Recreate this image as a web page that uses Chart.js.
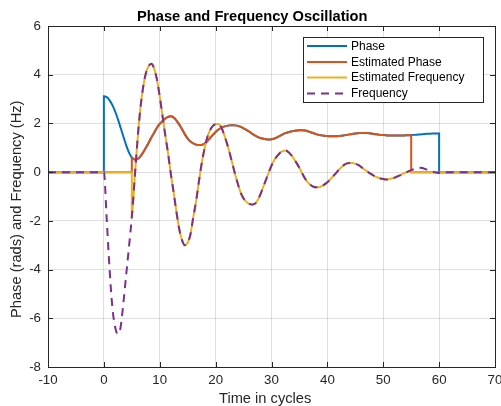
<!DOCTYPE html>
<html>
<head>
<meta charset="utf-8">
<script src="https://cdn.jsdelivr.net/npm/chart.js@4.4.1/dist/chart.umd.min.js"></script>
<style>
  body { margin: 0; background: #fff; }
  canvas { display: block; }
</style>
</head>
<body>
<canvas id="osc" width="501" height="406"></canvas>
<script>
// sample times (cycles), 0..60 every half cycle
var cycles = [0, 0.5, 1, 1.5, 2, 2.5, 3, 3.5, 4, 4.5, 5, 5.5, 6, 6.5, 7, 7.5, 8, 8.5, 9, 9.5,
  10, 10.5, 11, 11.5, 12, 12.5, 13, 13.5, 14, 14.5, 15, 15.5, 16, 16.5, 17, 17.5, 18, 18.5, 19, 19.5,
  20, 20.5, 21, 21.5, 22, 22.5, 23, 23.5, 24, 24.5, 25, 25.5, 26, 26.5, 27, 27.5, 28, 28.5, 29, 29.5,
  30, 30.5, 31, 31.5, 32, 32.5, 33, 33.5, 34, 34.5, 35, 35.5, 36, 36.5, 37, 37.5, 38, 38.5, 39, 39.5,
  40, 40.5, 41, 41.5, 42, 42.5, 43, 43.5, 44, 44.5, 45, 45.5, 46, 46.5, 47, 47.5, 48, 48.5, 49, 49.5,
  50, 50.5, 51, 51.5, 52, 52.5, 53, 53.5, 54, 54.5, 55, 55.5, 56, 56.5, 57, 57.5, 58, 58.5, 59, 59.5, 60];

var phase = [3.12, 3.08, 2.96, 2.76, 2.5, 2.18, 1.82, 1.45, 1.1, 0.8, 0.6, 0.52, 0.54, 0.64, 0.8, 1.0, 1.2, 1.42, 1.62, 1.82,
  1.98, 2.1, 2.2, 2.27, 2.29, 2.24, 2.12, 1.95, 1.76, 1.55, 1.38, 1.26, 1.18, 1.13, 1.11, 1.12, 1.17, 1.27, 1.4, 1.53,
  1.65, 1.75, 1.82, 1.87, 1.9, 1.92, 1.93, 1.92, 1.9, 1.86, 1.8, 1.74, 1.67, 1.58, 1.51, 1.45, 1.4, 1.37, 1.35, 1.34,
  1.35, 1.38, 1.43, 1.49, 1.55, 1.6, 1.64, 1.67, 1.69, 1.71, 1.72, 1.72, 1.71, 1.68, 1.64, 1.6, 1.56, 1.53, 1.51, 1.49,
  1.48, 1.47, 1.47, 1.47, 1.48, 1.49, 1.51, 1.53, 1.55, 1.57, 1.59, 1.6, 1.61, 1.61, 1.61, 1.6, 1.58, 1.56, 1.55, 1.53,
  1.52, 1.51, 1.5, 1.5, 1.5, 1.5, 1.5, 1.5, 1.51, 1.51, 1.52, 1.53, 1.54, 1.55, 1.56, 1.57, 1.58, 1.58, 1.59, 1.59, 1.59];

var frequency = [0, -1.9, -3.9, -5.5, -6.35, -6.65, -6.35, -5.35, -4.2, -3.05, -1.85, -0.3, 1.25, 2.55, 3.45, 4.05, 4.35, 4.45, 4.25, 3.8,
  3.1, 2.3, 1.5, 0.75, -0.1, -0.85, -1.65, -2.35, -2.8, -3.0, -2.9, -2.55, -1.85, -1.2, -0.4, 0.35, 0.95, 1.42, 1.72, 1.9,
  1.97, 1.98, 1.85, 1.55, 1.2, 0.8, 0.35, -0.1, -0.5, -0.85, -1.08, -1.22, -1.3, -1.33, -1.3, -1.16, -0.92, -0.62, -0.32, -0.02,
  0.27, 0.5, 0.66, 0.79, 0.86, 0.89, 0.83, 0.71, 0.55, 0.37, 0.17, -0.05, -0.26, -0.42, -0.53, -0.6, -0.62, -0.62, -0.57, -0.5,
  -0.41, -0.3, -0.18, -0.05, 0.08, 0.2, 0.3, 0.36, 0.38, 0.38, 0.34, 0.3, 0.22, 0.13, 0.05, -0.03, -0.1, -0.17, -0.22, -0.26,
  -0.28, -0.3, -0.29, -0.26, -0.23, -0.18, -0.13, -0.07, -0.02, 0.03, 0.08, 0.13, 0.17, 0.18, 0.17, 0.13, 0.09, 0.05, 0.01, -0.02, -0.04];

var seriesNames = ['Phase', 'Estimated Phase', 'Estimated Frequency', 'Frequency'];
var seriesColors = ['#0072BD', '#D95319', '#EDB120', '#7E2F8E'];

// signal is on from 0 to 60 cycles, estimator from 5 to 55
var signalOn = [0, 60];
var estimatorOn = [5, 55];

function windowed(values, span) {
  var pts = [{x: -10, y: 0}, {x: span[0], y: 0}];
  for (var i = 0; i < cycles.length; i++) {
    if (cycles[i] >= span[0] && cycles[i] <= span[1]) pts.push({x: cycles[i], y: values[i]});
  }
  pts.push({x: span[1], y: 0});
  pts.push({x: 70, y: 0});
  return pts;
}

var axisColor = '#262626';
var fontFam = '"Liberation Sans", Arial, Helvetica, sans-serif';

var matlabFrame = {
  id: 'matlabFrame',
  afterDraw: function (chart) {
    var ctx = chart.ctx, a = chart.chartArea;
    var xs = chart.scales.x, ys = chart.scales.y;
    ctx.save();
    ctx.strokeStyle = axisColor;
    ctx.lineWidth = 1;
    ctx.beginPath();
    xs.ticks.forEach(function (t) {
      var px = Math.round(xs.getPixelForValue(t.value)) + 0.5;
      ctx.moveTo(px, a.bottom); ctx.lineTo(px, a.bottom - 5);
      ctx.moveTo(px, a.top); ctx.lineTo(px, a.top + 5);
    });
    ys.ticks.forEach(function (t) {
      var py = Math.round(ys.getPixelForValue(t.value)) + 0.5;
      ctx.moveTo(a.left, py); ctx.lineTo(a.left + 5, py);
      ctx.moveTo(a.right, py); ctx.lineTo(a.right - 5, py);
    });
    ctx.stroke();
    ctx.strokeRect(Math.round(a.left) + 0.5, Math.round(a.top) + 0.5, Math.round(a.right - a.left), Math.round(a.bottom - a.top));

    // legend box
    var lx = 303, ly = 37, lw = 180, lh = 65;
    ctx.fillStyle = '#fff';
    ctx.fillRect(lx, ly, lw, lh);
    ctx.strokeRect(lx + 0.5, ly + 0.5, lw, lh);
    var rows = [46, 62, 77.5, 93.5];
    ctx.font = '12px ' + fontFam;
    ctx.textBaseline = 'middle';
    ctx.textAlign = 'left';
    chart.data.datasets.forEach(function (ds, i) {
      ctx.beginPath();
      ctx.strokeStyle = ds.borderColor;
      ctx.lineWidth = 2;
      ctx.setLineDash(ds.borderDash || []);
      ctx.moveTo(307, rows[i]); ctx.lineTo(347, rows[i]);
      ctx.stroke();
      ctx.setLineDash([]);
      ctx.fillStyle = '#000';
      ctx.fillText(ds.label, 351, rows[i] + 0.5);
    });

    // title and axis labels
    ctx.fillStyle = '#000';
    ctx.textBaseline = 'alphabetic';
    ctx.font = 'bold 14.67px ' + fontFam;
    ctx.fillText('Phase and Frequency Oscillation', 137, 20.5);
    ctx.fillStyle = axisColor;
    ctx.font = '14.67px ' + fontFam;
    ctx.fillText('Time in cycles', 219, 403);
    ctx.translate(21, 318);
    ctx.rotate(-Math.PI / 2);
    ctx.fillText('Phase (rads) and Frequency (Hz)', 0, 0);
    ctx.restore();
  }
};

var datasets = [
  windowed(phase, signalOn),
  windowed(phase, estimatorOn),
  windowed(frequency, estimatorOn),
  windowed(frequency, signalOn)
].map(function (pts, i) {
  return {
    label: seriesNames[i],
    data: pts,
    borderColor: seriesColors[i],
    borderWidth: 2,
    borderDash: i === 3 ? [8, 6] : [],
    pointRadius: 0,
    cubicInterpolationMode: 'monotone',
    order: 4 - i
  };
});

var oscChart = new Chart(document.getElementById('osc'), {
  type: 'line',
  data: {datasets: datasets},
  options: {
    responsive: false,
    animation: false,
    layout: {padding: {left: 0, right: 6, top: 26, bottom: 0}},
    plugins: {legend: {display: false}, title: {display: false}, tooltip: {enabled: false}},
    scales: {
      x: {
        type: 'linear', min: -10, max: 70,
        ticks: {stepSize: 10, color: axisColor, font: {size: 13.3, family: fontFam}, padding: 5, maxRotation: 0},
        grid: {color: 'rgba(38,38,38,0.15)', drawTicks: false},
        border: {display: false},
        afterFit: function (s) { s.height = 39; s.paddingLeft = 0; s.paddingRight = 0; }
      },
      y: {
        min: -8, max: 6,
        ticks: {stepSize: 2, color: axisColor, font: {size: 13.3, family: fontFam}, padding: 7},
        grid: {color: 'rgba(38,38,38,0.15)', drawTicks: false},
        border: {display: false},
        afterFit: function (s) { s.width = 48; s.paddingTop = 0; s.paddingBottom = 0; }
      }
    }
  },
  plugins: [matlabFrame]
});
</script>
</body>
</html>
